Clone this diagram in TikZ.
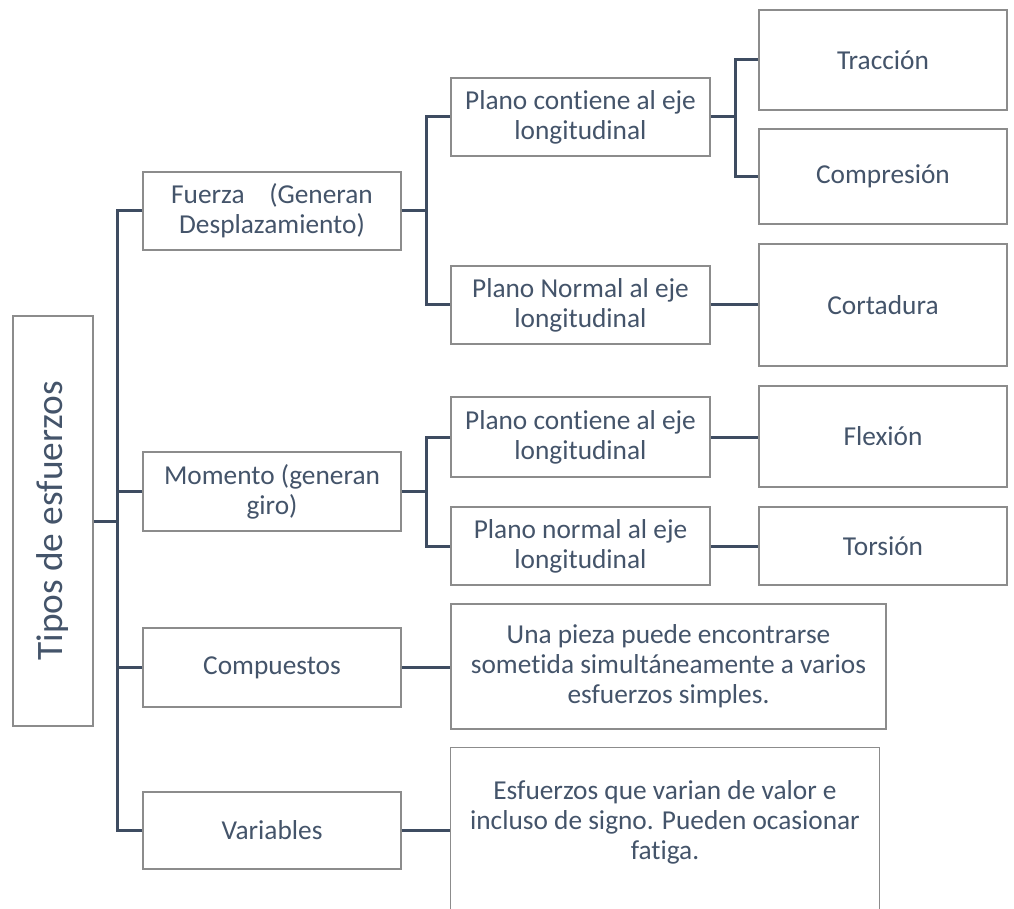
\documentclass[tikz,border=0pt]{standalone}
\usepackage{fontspec}
\usepackage{graphicx}
\setmainfont{Carlito}[Ligatures=NoCommon]
\definecolor{txt}{RGB}{68,84,106}
\definecolor{boxgray}{RGB}{140,140,140}
\definecolor{connblue}{RGB}{62,76,97}

\begin{document}
\begin{tikzpicture}[x=0.75pt,y=-0.75pt,
  sz/.style 2 args={minimum width=#1*0.75pt, minimum height=#2*0.75pt},
  box/.style={draw=boxgray, line width=0.9pt, fill=white, rectangle,
    inner sep=2pt, align=center, text=txt,
    font=\fontsize{20.5}{22.5}\selectfont},
  conn/.style={draw=connblue, line width=2.25pt}]

\useasboundingbox (0,0) rectangle (1014,909);
\clip (0,0) rectangle (1014,909);

% root
\node[box, sz={80}{410}, font=\fontsize{28}{32}\selectfont] (root) at (53,521)
  {\rotatebox{90}{Tipos de esfuerzos}};

% first level
\node[box, sz={258}{78}] (fuerza) at (272,211) {Fuerza\hspace{0.9em}(Generan\\Desplazamiento)};
\node[box, sz={258}{79}] (momento) at (272,491.5) {Momento (generan\\giro)};
\node[box, sz={258}{79}] (compuestos) at (272,667.5) {Compuestos};
\node[box, sz={258}{77}] (variables) at (272,830.5) {Variables};

% second level
\node[box, sz={259}{78}] (pc1) at (580.5,117) {Plano contiene al eje\\longitudinal};
\node[box, sz={259}{78}] (pn1) at (580.5,305) {Plano Normal al eje\\longitudinal};
\node[box, sz={259}{80}] (pc2) at (580.5,437) {Plano contiene al eje\\longitudinal};
\node[box, sz={259}{78}] (pn2) at (580.5,546) {Plano normal al eje\\longitudinal};
\node[box, sz={435}{125}] (compdesc) at (668.5,666.5)
  {Una pieza puede encontrarse\\sometida simultáneamente a varios\\esfuerzos simples.};
\node[box, draw=none, fill=none, sz={428}{148}] (vardesc) at (665,822)
  {Esfuerzos que varian de valor e\\incluso de signo. Pueden ocasionar\\fatiga.};
\draw[draw=boxgray, line width=0.9pt]
  ([yshift=-40pt]vardesc.south west) -- (vardesc.north west)
  -- (vardesc.north east) -- ([yshift=-40pt]vardesc.south east);

% third level
\node[box, sz={248}{100}] (traccion) at (883,60) {Tracción};
\node[box, sz={248}{95}] (compresion) at (883,176.5) {Compresión};
\node[box, sz={248}{122}] (cortadura) at (883,305) {Cortadura};
\node[box, sz={248}{101}] (flexion) at (883,436.5) {Flexión};
\node[box, sz={248}{78}] (torsion) at (883,546) {Torsión};

% junction points of the connector trees
\coordinate (trunk) at (117,521);
\coordinate (fbus) at (426,211);
\coordinate (mbus) at (426,491.5);
\coordinate (pbus) at (735,117);

% root to first level
\draw[conn] (root.east) -- (trunk);
\draw[conn] (fuerza.west) -| (trunk);
\draw[conn] (variables.west) -| (trunk);
\draw[conn] (momento.west) -- (momento.west -| trunk);
\draw[conn] (compuestos.west) -- (compuestos.west -| trunk);

% Fuerza branch
\draw[conn] (fuerza.east) -- (fbus);
\draw[conn] (pc1.west) -| (fbus);
\draw[conn] (pn1.west) -| (fbus);
\draw[conn] (pc1.east) -- (pbus);
\draw[conn] (traccion.west) -| (pbus);
\draw[conn] (compresion.west) -| (pbus);
\draw[conn] (pn1.east) -- (cortadura.west);

% Momento branch
\draw[conn] (momento.east) -- (mbus);
\draw[conn] (pc2.west) -| (mbus);
\draw[conn] (pn2.west) -| (mbus);
\draw[conn] (pc2.east) -- (pc2.east -| flexion.west);
\draw[conn] (pn2.east) -- (torsion.west);

% descriptions
\draw[conn] (compuestos.east) -- (compuestos.east -| compdesc.west);
\draw[conn] (variables.east) -- (variables.east -| vardesc.west);
\end{tikzpicture}
\end{document}
